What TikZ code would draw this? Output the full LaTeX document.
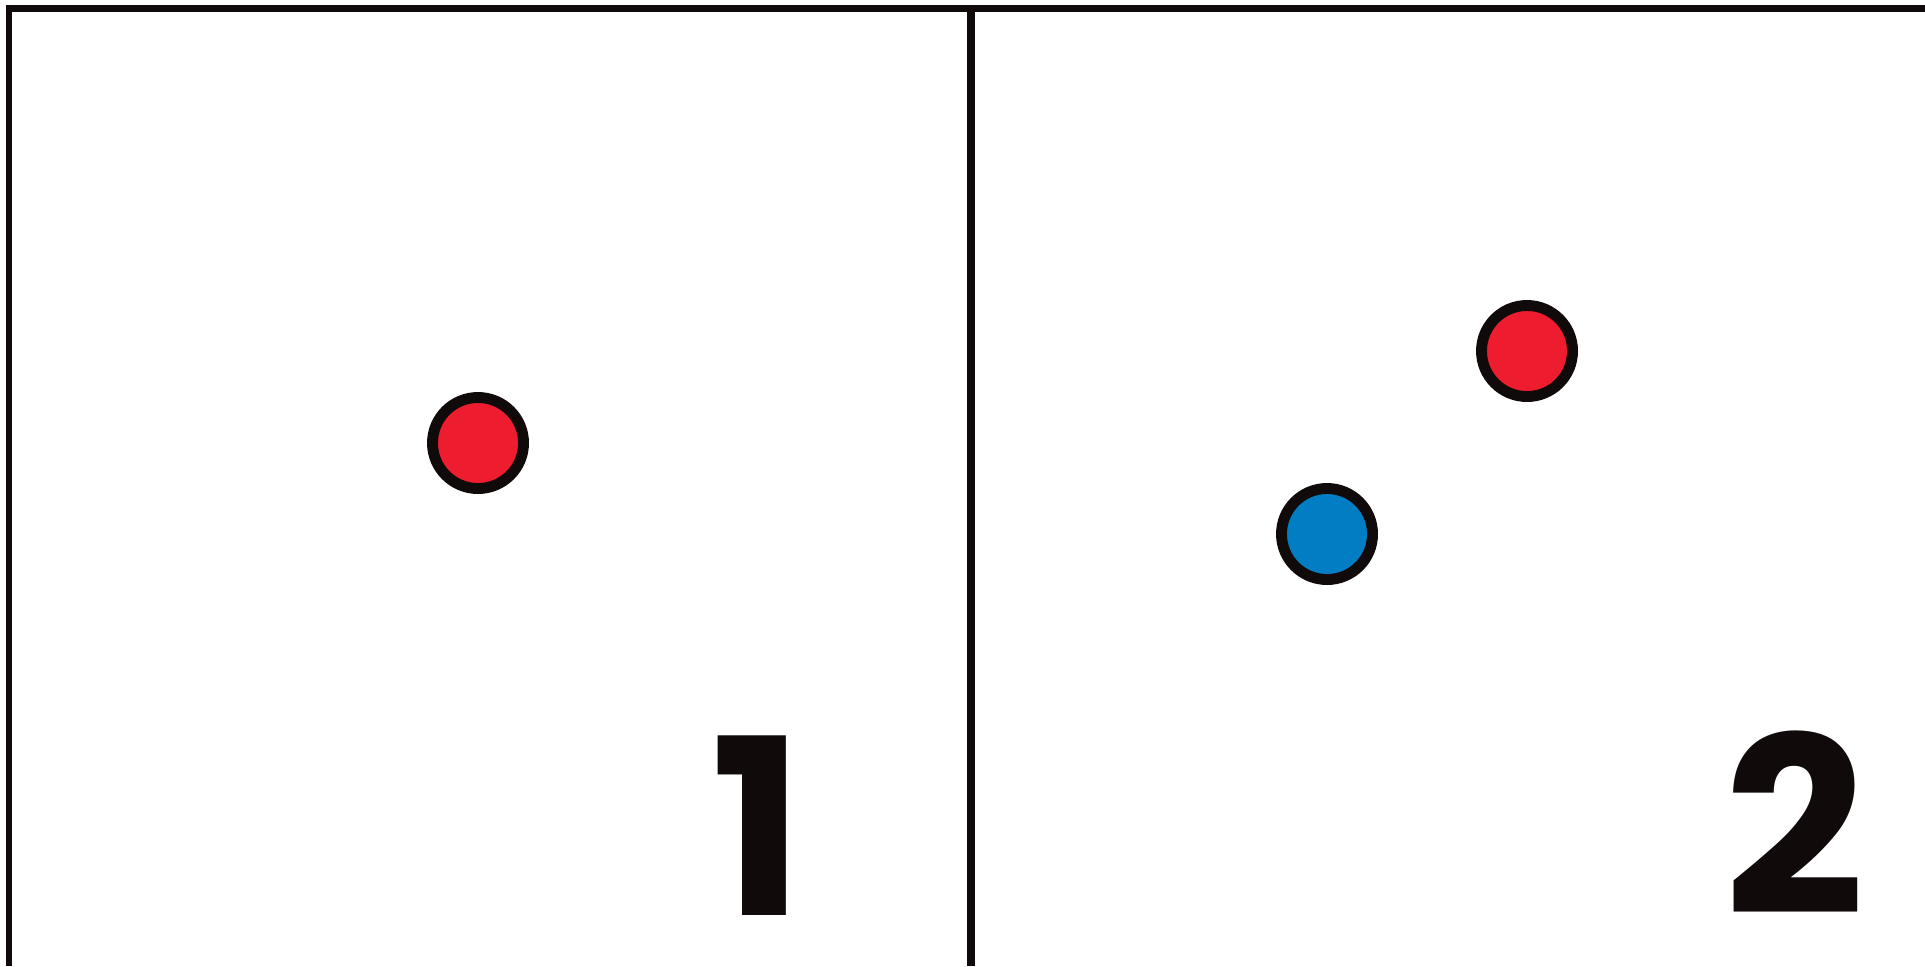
\documentclass[tikz,border=0pt]{standalone}
\usepackage{fontspec}
\setsansfont{Poppins}
\usepackage{xcolor}
\definecolor{Ink}{HTML}{100A0B}
\definecolor{DotRed}{HTML}{ED1C2E}
\definecolor{DotBlue}{HTML}{007DC3}
\tikzset{
  frameline/.style={Ink,line width=1.75pt},
  dot/.style={circle,minimum size=0.91cm,inner sep=0pt,draw=Ink,line width=3.1pt},
  panelnum/.style={anchor=base,inner sep=0pt,text depth=0pt,text=Ink,font=\sffamily\bfseries\fontsize{70}{76}\selectfont}
}
\begin{document}
\begin{tikzpicture}[x=0.01cm,y=-0.01cm]
\useasboundingbox (0,0) rectangle (1925,966);
% frame
\draw[frameline] (9,966) -- (9,8.5) -- (1925,8.5);
\draw[Ink,line width=2.5pt] (971,8.5) -- (971,966);
% panel 1
\node[dot,fill=DotRed] (red1) at (478,443) {};
\node[panelnum] (num1) at (758,915) {1};
% panel 2
\node[dot,fill=DotRed] (red2) at (1527,351) {};
\node[dot,fill=DotBlue] (blue2) at (1327,534) {};
\node[panelnum] (num2) at (1795,914) {2};
\end{tikzpicture}
\end{document}
